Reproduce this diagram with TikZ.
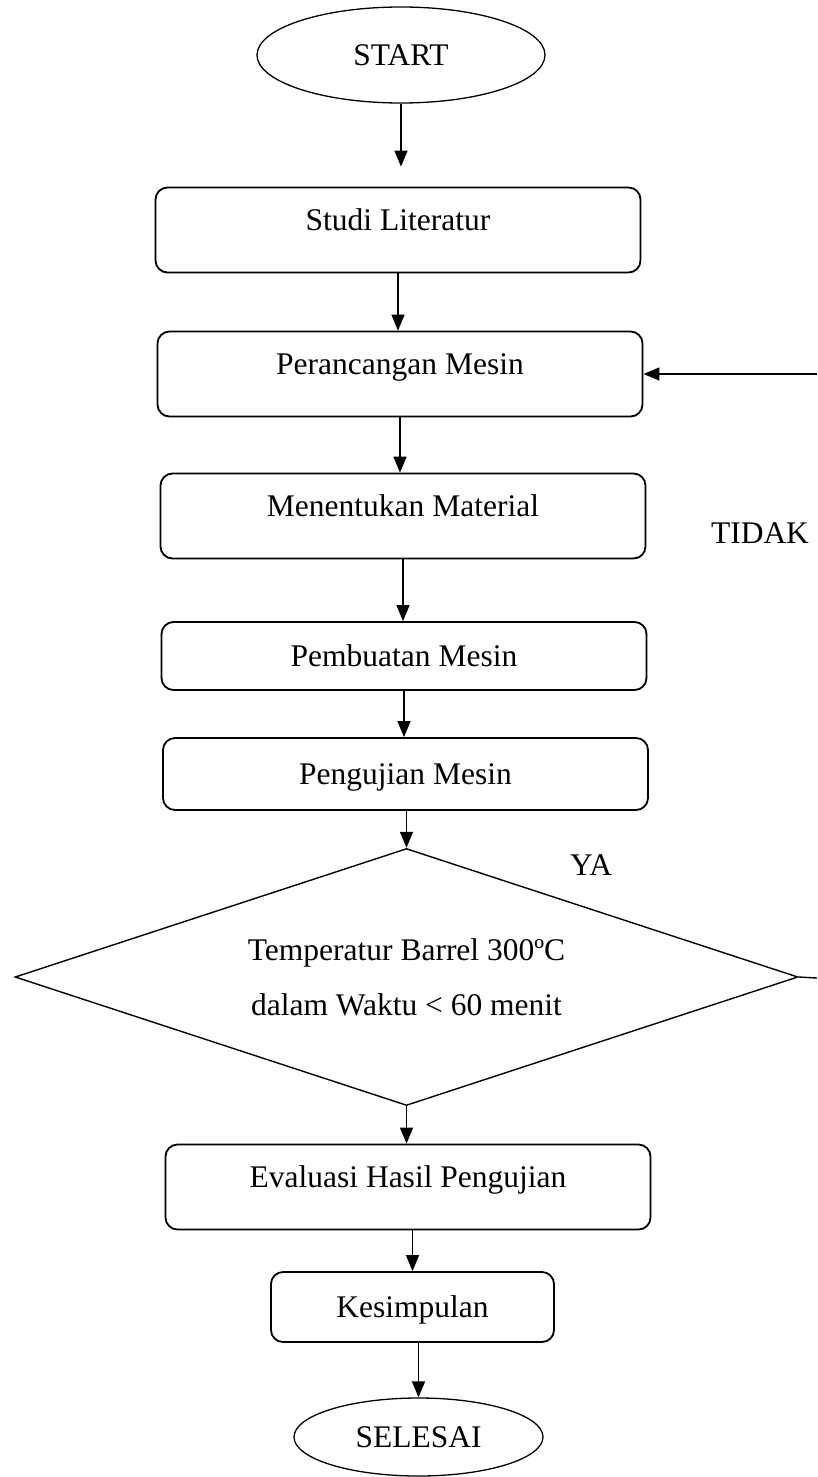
\documentclass[tikz,border=0pt]{standalone}
\usepackage{fontspec}
\setmainfont{Liberation Serif}
\usepackage{tikz}
\usetikzlibrary{arrows.meta,shapes.geometric}

\begin{document}
\begin{tikzpicture}[>={Triangle[length=16pt,width=13pt]},x=1pt,y=-1pt,
  every node/.style={font=\fontsize{31.5}{38}\selectfont},
  kotak/.style={draw,line width=1.8pt,rounded corners=12pt,minimum width=485pt,inner sep=0pt,text height=22pt,text depth=1pt},
  tinggi/.style={kotak,minimum height=85pt,text depth=21pt},
  oval/.style={draw,ellipse,line width=1.3pt,inner sep=0pt},
  panah/.style={->,line width=1.4pt}]
\useasboundingbox (0,0) rectangle (817,1477);
\node[oval,minimum width=288pt,minimum height=96pt] (mulai) at (401,55){START};
\node[tinggi] (studi) at (398,230){Studi Literatur};\node[tinggi] (rancang) at (400,374){Perancangan Mesin};
\node[tinggi] (material) at (403,516){Menentukan Material};\node[kotak,minimum height=68pt] (buat) at (404,656){Pembuatan Mesin};
\node[kotak,minimum height=72pt] (uji) at (405.5,774){Pengujian Mesin};
\node[draw,diamond,line width=1.4pt,inner sep=0pt,aspect=3,minimum width=783pt,minimum height=257pt,align=center,font=\fontsize{31.5}{55}\selectfont] (cek) at (406.5,977){Temperatur Barrel 300ºC\\dalam Waktu < 60 menit};
\node[tinggi] (eval) at (408,1187){Evaluasi Hasil Pengujian};\node[kotak,minimum width=283pt,minimum height=70pt] (simpul) at (412.5,1307){Kesimpulan};
\node[oval,minimum width=249pt,minimum height=78pt] (selesai) at (418.5,1437){SELESAI};
\node (tidak) at (760,533){TIDAK};\node (ya) at (591,865){YA};
\coordinate (balik) at (817,374);\coordinate (ujung) at (817,978);
\draw[panah,shorten >=20pt] (mulai.south) -- (mulai.south |- studi.north);
\draw[panah] (studi.south) -- (studi.south |- rancang.north);\draw[panah] (rancang.south) -- (rancang.south |- material.north);
\draw[panah] (material.south) -- (material.south |- buat.north);\draw[panah] (buat.south) -- (buat.south |- uji.north);
\draw[panah] (cek.north |- uji.south) -- (cek.north);\draw[panah] (cek.south) -- (cek.south |- eval.north);
\draw[panah] (simpul.north |- eval.south) -- (simpul.north);\draw[panah] (selesai.north |- simpul.south) -- (selesai.north);
\draw[panah] (balik) -- (rancang.east);\draw[line width=1.4pt] (cek.east) -- (ujung);
\end{tikzpicture}
\end{document}
